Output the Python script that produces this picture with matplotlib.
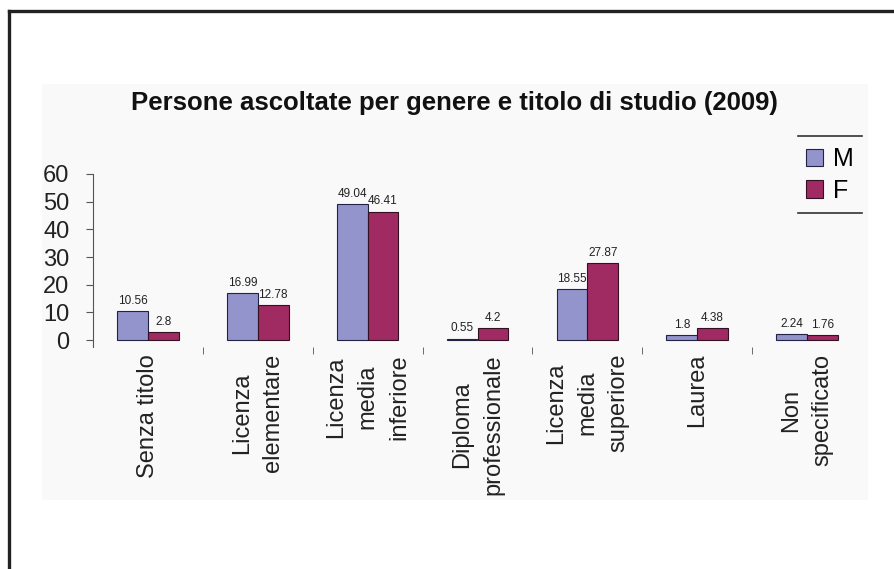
import matplotlib.pyplot as plt
from matplotlib.lines import Line2D
from matplotlib.patches import Rectangle
import numpy as np

# dati
categorie = ['Senza titolo', 'Licenza\nelementare', 'Licenza\nmedia\ninferiore',
             'Diploma\nprofessionale', 'Licenza\nmedia\nsuperiore', 'Laurea',
             'Non\nspecificato']
maschi = [10.56, 16.99, 49.04, 0.55, 18.55, 1.8, 2.24]
femmine = [2.8, 12.78, 46.41, 4.2, 27.87, 4.38, 1.76]
etichette_m = ['10.56', '16.99', '49.04', '0.55', '18.55', '1.8', '2.24']
etichette_f = ['2.8', '12.78', '46.41', '4.2', '27.87', '4.38', '1.76']

plt.rcParams['font.family'] = ['Liberation Sans', 'DejaVu Sans']

fig = plt.figure(figsize=(8.94, 5.69), dpi=100)
W, H = 894, 569

# cornice esterna e sfondo chiaro
fig.add_artist(Rectangle((42 / W, 1 - 500 / H), (868 - 42) / W, (500 - 84) / H,
                         transform=fig.transFigure, facecolor='#f9f9f9',
                         edgecolor='none', zorder=0))
fig.add_artist(Line2D([9 / W, 1], [1 - 11 / H, 1 - 11 / H], color='#222222', lw=2.4))
fig.add_artist(Line2D([9 / W, 9 / W], [0, 1 - 11 / H], color='#222222', lw=2.4))

ax = fig.add_axes([93 / W, 1 - 347 / H, (862 - 93) / W, (347 - 174) / H])
ax.patch.set_alpha(0)

x = np.arange(len(categorie))
w = 0.28
b1 = ax.bar(x - w / 2, maschi, w, color='#9494cc', edgecolor='#222244', lw=0.8, label='M')
b2 = ax.bar(x + w / 2, femmine, w, color='#a02a62', edgecolor='#331122', lw=0.8, label='F')

for rect, t in zip(b1, etichette_m):
    ax.text(rect.get_x() + rect.get_width() / 2, rect.get_height() + 1.5, t,
            ha='center', va='bottom', fontsize=8.5, color='#222222')
for rect, t in zip(b2, etichette_f):
    ax.text(rect.get_x() + rect.get_width() / 2, rect.get_height() + 1.5, t,
            ha='center', va='bottom', fontsize=8.5, color='#222222')

ax.set_xlim(-0.5, len(categorie) - 0.5)
ax.set_ylim(-2.5, 60)
ax.set_yticks(range(0, 61, 10))
ax.tick_params(axis='y', labelsize=17, length=5, pad=12, color='#555555',
               labelcolor='#222222')
ax.set_xticks(x)
ax.set_xticklabels(categorie, rotation=90, fontsize=17, va='top', ha='center',
                   multialignment='center', color='#222222')
for lab in ax.get_xticklabels():
    lab.set_linespacing(1.55)
ax.tick_params(axis='x', which='major', length=0, pad=5)
ax.set_xticks(x[:-1] + 0.5, minor=True)
ax.tick_params(axis='x', which='minor', length=5, color='#555555')

for s in ['top', 'right', 'bottom']:
    ax.spines[s].set_visible(False)
ax.spines['left'].set_color('#555555')

fig.text(454 / W, 1 - 103 / H, 'Persone ascoltate per genere e titolo di studio (2009)',
         ha='center', va='center', fontsize=18.5, fontweight='bold', color='#111111')

leg = fig.legend(handles=[b1, b2], loc='center', bbox_to_anchor=(830 / W, 1 - 175 / H),
                 frameon=False, fontsize=18, handlelength=0.7, handleheight=0.7,
                 handletextpad=0.4, labelspacing=0.3)
fig.add_artist(Line2D([798 / W, 862 / W], [1 - 136 / H, 1 - 136 / H], color='#333333', lw=1.2))
fig.add_artist(Line2D([798 / W, 862 / W], [1 - 213 / H, 1 - 213 / H], color='#333333', lw=1.2))

fig.savefig('out.png', dpi=100)
